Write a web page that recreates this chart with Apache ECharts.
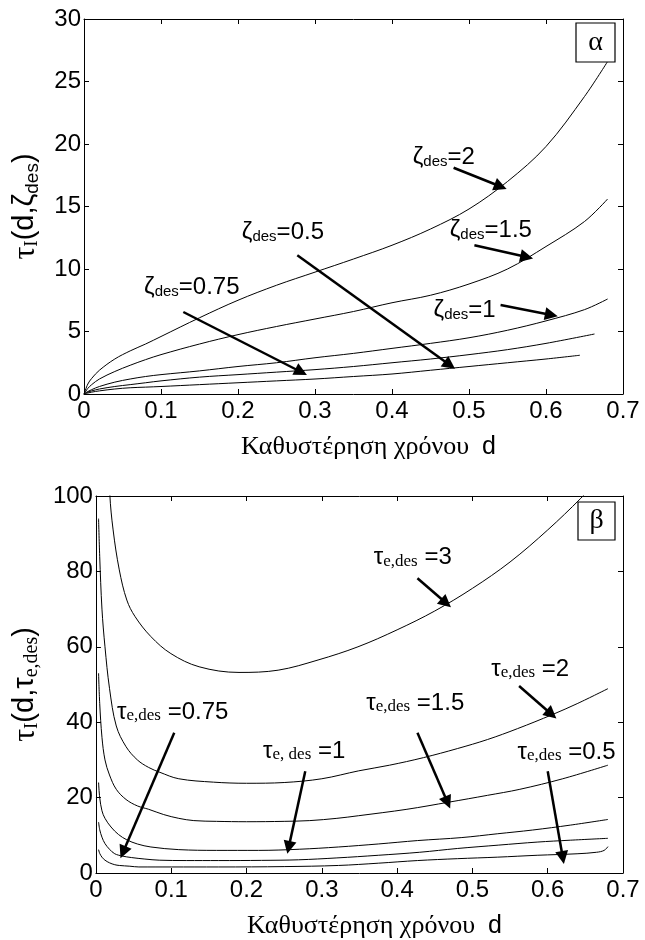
<!DOCTYPE html>
<html><head><meta charset="utf-8">
<script src="https://cdn.jsdelivr.net/npm/echarts@6/dist/echarts.min.js"></script>
<style>html,body{margin:0;padding:0;background:#fff}#c{width:645px;height:940px}</style>
</head><body><div id="c"></div>
<script>
// ---------- data: top panel (α) ----------
const dTop = [0,0.005,0.01,0.02,0.04,0.06,0.08,0.1,0.15,0.2,0.25,0.3,0.35,0.4,0.45,0.5,0.55,0.6,0.65,0.68];
const zeta2  = [0,0.8,1.25,1.9,2.8,3.45,4.0,4.6,6.1,7.5,8.7,9.75,10.8,11.9,13.2,14.8,17.0,19.8,23.8,26.6];
const zeta15 = [0,0.45,0.75,1.2,1.8,2.3,2.75,3.15,4.0,4.75,5.4,6.0,6.6,7.3,7.9,8.8,10.0,11.8,13.8,15.6];
const zeta1  = [0,0.2,0.35,0.6,0.95,1.2,1.4,1.55,1.85,2.2,2.5,2.9,3.25,3.65,4.05,4.5,5.1,5.85,6.75,7.6];
const dZ075  = [0,0.005,0.01,0.02,0.04,0.06,0.08,0.1,0.15,0.2,0.25,0.3,0.35,0.4,0.45,0.5,0.55,0.6,0.663];
const zeta075= [0,0.15,0.25,0.4,0.6,0.75,0.9,1.05,1.35,1.55,1.75,1.95,2.2,2.5,2.8,3.15,3.55,4.05,4.8];
const dZ05   = [0,0.005,0.01,0.02,0.04,0.06,0.08,0.1,0.15,0.2,0.25,0.3,0.35,0.4,0.45,0.5,0.55,0.6,0.644];
const zeta05 = [0,0.08,0.15,0.25,0.4,0.5,0.55,0.6,0.75,0.9,1.05,1.2,1.4,1.6,1.9,2.2,2.5,2.8,3.1];

// ---------- data: bottom panel (β) ----------
const dTau3 = [0.0165,0.0184,0.0228,0.031,0.041,0.052,0.073,0.0995,0.137,0.19,0.242,0.295,0.348,0.4,0.45,0.5,0.55,0.6,0.644,0.66];
const tau3  = [115,100.5,91,80.4,72.4,68,62.7,58.2,54.7,53.2,53.8,56.5,60,64.5,69.5,75.5,82.5,91,99.4,103];
const dTau2 = [0.0035,0.005,0.008,0.012,0.018,0.027,0.04,0.055,0.07,0.085,0.11,0.156,0.2,0.25,0.3,0.349,0.39,0.435,0.48,0.52,0.56,0.606,0.64,0.68];
const tau2  = [94,84,70,60,49,39,33.5,30,28,26.7,25,24.1,23.8,24,25,27.1,28.6,30.6,33,35.4,38.3,42,45,48.9];
const dTau15= [0.0035,0.005,0.008,0.012,0.018,0.027,0.04,0.055,0.07,0.09,0.11,0.13,0.16,0.2,0.25,0.284,0.32,0.349,0.413,0.469,0.52,0.563,0.62,0.68];
const tau15 = [53,45,36,30,26,22.2,19.5,17.8,16.9,15.5,14.5,13.9,13.7,13.6,13.7,13.9,14.5,15.2,16.9,18.8,20.6,22.2,25,28.6];
const dTau1 = [0.0035,0.005,0.008,0.012,0.02,0.03,0.041,0.055,0.073,0.11,0.16,0.216,0.27,0.322,0.375,0.427,0.486,0.533,0.58,0.63,0.68];
const tau1  = [24,20,16.5,14.5,12.2,10.2,8.8,7.7,6.9,6.2,6,6,6.3,6.9,7.7,8.6,9.4,10.4,11.4,12.7,14.2];
const dTau075=[0.0035,0.005,0.008,0.012,0.018,0.025,0.035,0.047,0.065,0.084,0.12,0.163,0.22,0.269,0.32,0.375,0.43,0.48,0.535,0.586,0.63,0.68];
const tau075= [13.5,11.5,9.5,7.8,6.3,5.1,4.5,4.1,3.7,3.4,3.3,3.3,3.35,3.5,4,4.7,5.5,6.5,7.4,8.2,8.7,9.2];
const dTau05= [0.0035,0.005,0.008,0.012,0.018,0.025,0.031,0.045,0.057,0.1,0.163,0.25,0.322,0.375,0.427,0.48,0.533,0.586,0.639,0.665,0.675,0.68];
const tau05 = [6.2,5.2,4.2,3.4,2.7,2.2,2,1.8,1.6,1.6,1.6,1.7,2,2.6,3.3,3.8,4.2,4.7,5.1,5.5,6,7];

// ---------- tick labels ----------
const xTickLabels = ['0','0.1','0.2','0.3','0.4','0.5','0.6','0.7'];
const yTopTicks = ['0','5','10','15','20','25','30'];
const yBotTicks = ['0','20','40','60','80','100'];

// ---------- annotations (data coords) ----------
const topLabels = [
  {text:'{z|ζ}{d|des}{n|=2}',    at:[0.427,18.96]},
  {text:'{z|ζ}{d|des}{n|=1.5}',  at:[0.475,13.1]},
  {text:'{z|ζ}{d|des}{n|=1}',    at:[0.454,6.7]},
  {text:'{z|ζ}{d|des}{n|=0.5}',  at:[0.205,12.9]},
  {text:'{z|ζ}{d|des}{n|=0.75}', at:[0.078,8.56]}
];
const topArrows = [
  [[0.48,18.1],[0.541,16.6]],
  [[0.507,11.9],[0.575,10.96]],
  [[0.541,7.12],[0.607,6.32]],
  [[0.277,11.1],[0.475,2.32]],
  [[0.129,6.56],[0.282,1.76]]
];
const botLabels = [
  {text:'{z|τ}{d|e,des}{n| =3}',    at:[0.369,83.6]},
  {text:'{z|τ}{d|e,des}{n| =2}',    at:[0.525,54]},
  {text:'{z|τ}{d|e,des}{n| =1.5}',  at:[0.359,45]},
  {text:'{z|τ}{d|e,des}{n| =0.75}', at:[0.028,42.6]},
  {text:'{z|τ}{d|e, des}{n| =1}',   at:[0.222,32.3]},
  {text:'{z|τ}{d|e,des}{n| =0.5}',  at:[0.56,32]}
];
const botArrows = [
  [[0.427,78.2],[0.465,71.6]],
  [[0.562,49.6],[0.605,42.1]],
  [[0.427,37.2],[0.467,18.7]],
  [[0.104,37.2],[0.036,5.5]],
  [[0.278,27],[0.256,6.8]],
  [[0.6,27],[0.62,4.1]]
];

const SANS = "'Liberation Sans', Arial, Helvetica, sans-serif";
const SERIF = "'Liberation Serif', 'Times New Roman', serif";

function pairs(xs, ys){ return xs.map((x,i)=>[x, ys[i]]); }

const topRich = {
  z:{fontFamily:SANS,fontSize:24,color:'#000',lineHeight:24,verticalAlign:'top'},
  d:{fontFamily:SANS,fontSize:15,color:'#000',lineHeight:15,verticalAlign:'bottom',padding:[13,0,0,0]},
  n:{fontFamily:SANS,fontSize:24,color:'#000',lineHeight:24,verticalAlign:'top'}
};
const botRich = {
  z:{fontFamily:SANS,fontSize:24,color:'#000',lineHeight:24,verticalAlign:'top'},
  d:{fontFamily:SERIF,fontSize:17,color:'#000',lineHeight:17,verticalAlign:'bottom',padding:[12,0,0,0]},
  n:{fontFamily:SANS,fontSize:24,color:'#000',lineHeight:24,verticalAlign:'top'}
};

function markPts(list, rich){
  return {
    symbol:'circle', symbolSize:0, silent:true,
    itemStyle:{color:'rgba(0,0,0,0)'},
    label:{show:true, position:'right', distance:0, color:'#000', rich:rich},
    data: list.map(a=>({coord:a.at, value:0, label:{formatter:a.text}}))
  };
}
function markArr(list){
  return {
    silent:true, symbol:['none','triangle'], symbolSize:13,
    itemStyle:{color:'#000'},
    lineStyle:{color:'#000', width:2.5, type:'solid'},
    label:{show:false},
    data: list.map(p=>[{coord:p[0]},{coord:p[1]}])
  };
}

const lineStyle = {color:'#000', width:1};
function curve(name, xi, yi, data, extra){
  return Object.assign({
    name:name, type:'line', xAxisIndex:xi, yAxisIndex:yi, data:data,
    showSymbol:false, symbol:'none', smooth:0.35, lineStyle:lineStyle,
    itemStyle:{color:'#000'}, clip:true, silent:true, animation:false
  }, extra||{});
}

const axisLine = {show:true, onZero:false, lineStyle:{color:'#000', width:1}};
const tick = {show:true, inside:true, length:5, lineStyle:{color:'#000', width:1}};
const xLabel = {color:'#000', fontSize:24, fontFamily:SANS, margin:5,
  formatter:v=>xTickLabels[Math.round(v*10)]};

const xName = '{g|Καθυστέρηση χρόνου  }{s|d}';
const xNameStyle = {padding:[0,0,0,30], rich:{
  g:{fontFamily:SERIF,fontSize:26,color:'#000'},
  s:{fontFamily:SANS,fontSize:25,color:'#000'}}};

function mkX(gi, pos, withName){
  const a = {gridIndex:gi, type:'value', min:0, max:0.7, interval:0.1, position:pos,
    axisLine:axisLine, axisTick:tick, splitLine:{show:false},
    axisLabel: pos==='bottom' ? xLabel : {show:false}};
  if (withName){ a.name = xName; a.nameLocation='middle'; a.nameGap=40; a.nameTextStyle=xNameStyle; }
  return a;
}
function mkY(gi, pos, max, interval, labels, name, rich){
  const a = {gridIndex:gi, type:'value', min:0, max:max, interval:interval, position:pos,
    axisLine:axisLine, axisTick:tick, splitLine:{show:false},
    axisLabel: pos==='left' ? {color:'#000', fontSize:24, fontFamily:SANS, margin:3,
       formatter:v=>labels[Math.round(v/interval)]} : {show:false}};
  if (name){ a.name=name; a.nameLocation='middle'; a.nameRotate=90; a.nameGap=42;
    a.nameTextStyle={rich:rich}; }
  return a;
}

const yRichTop = {
  t:{fontFamily:SERIF,fontSize:32,color:'#000',lineHeight:32,verticalAlign:'top'},
  ts:{fontFamily:SERIF,fontSize:19,color:'#000',lineHeight:19,verticalAlign:'bottom',padding:[15,0,0,0]},
  s:{fontFamily:SANS,fontSize:29,color:'#000',lineHeight:32,verticalAlign:'top'},
  ss:{fontFamily:SANS,fontSize:19,color:'#000',lineHeight:19,verticalAlign:'bottom',padding:[15,0,0,0]}
};
const yRichBot = {
  t:{fontFamily:SERIF,fontSize:32,color:'#000',lineHeight:32,verticalAlign:'top'},
  ts:{fontFamily:SERIF,fontSize:19,color:'#000',lineHeight:19,verticalAlign:'bottom',padding:[15,0,0,0]},
  s:{fontFamily:SANS,fontSize:29,color:'#000',lineHeight:32,verticalAlign:'top'},
  ss:{fontFamily:SERIF,fontSize:20,color:'#000',lineHeight:20,verticalAlign:'bottom',padding:[14,0,0,0]}
};

const option = {
  animation:false,
  backgroundColor:'#fff',
  grid:[
    {left:79, top:19, width:544, height:375, show:false},
    {left:79, top:496, width:544, height:378, show:false}
  ],
  xAxis:[ mkX(0,'bottom',true), mkX(0,'top',false), mkX(1,'bottom',true), mkX(1,'top',false) ],
  yAxis:[
    mkY(0,'left',30,5,yTopTicks,'{t|τ}{ts|I}{s|(d,ζ}{ss|des}{s|)}',yRichTop),
    mkY(0,'right',30,5,yTopTicks),
    mkY(1,'left',100,20,yBotTicks,'{t|τ}{ts|I}{s|(d,τ}{ss|e,des}{s|)}',yRichBot),
    mkY(1,'right',100,20,yBotTicks)
  ],
  series:[
    curve('ζ=2',0,0,pairs(dTop,zeta2),{markPoint:markPts(topLabels,topRich), markLine:markArr(topArrows)}),
    curve('ζ=1.5',0,0,pairs(dTop,zeta15)),
    curve('ζ=1',0,0,pairs(dTop,zeta1)),
    curve('ζ=0.75',0,0,pairs(dZ075,zeta075)),
    curve('ζ=0.5',0,0,pairs(dZ05,zeta05)),
    curve('τ=3',2,2,pairs(dTau3,tau3),{markPoint:markPts(botLabels,botRich), markLine:markArr(botArrows)}),
    curve('τ=2',2,2,pairs(dTau2,tau2)),
    curve('τ=1.5',2,2,pairs(dTau15,tau15)),
    curve('τ=1',2,2,pairs(dTau1,tau1)),
    curve('τ=0.75',2,2,pairs(dTau075,tau075)),
    curve('τ=0.5',2,2,pairs(dTau05,tau05))
  ],
  graphic:[
    {type:'rect', shape:{x:576,y:23,width:39,height:39}, style:{fill:'#fff',stroke:'#000',lineWidth:1.2}, z:100},
    {type:'text', x:595.5, y:42.5, style:{text:'α', font:'28px '+SERIF, fill:'#000', align:'center', verticalAlign:'middle'}, z:101},
    {type:'rect', shape:{x:578,y:502,width:37,height:38}, style:{fill:'#fff',stroke:'#000',lineWidth:1.2}, z:100},
    {type:'text', x:596.5, y:521, style:{text:'β', font:'28px '+SERIF, fill:'#000', align:'center', verticalAlign:'middle'}, z:101}
  ]
};

const chart = echarts.init(document.getElementById('c'), null, {renderer:'canvas'});
chart.setOption(option);
</script>
</body></html>
